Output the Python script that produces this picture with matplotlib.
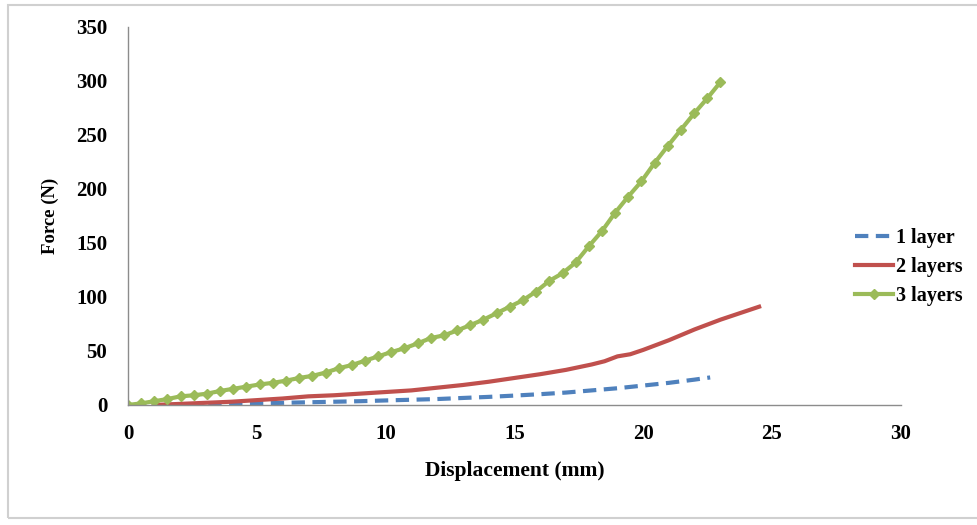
import matplotlib.pyplot as plt
from matplotlib.patches import Rectangle

# 1 layer
x1 = [1.5, 3, 5, 7, 9, 10, 12, 14, 15, 16, 17, 18, 19, 20, 21, 22, 22.6]
y1 = [0, 0.5, 1.5, 2.5, 3.5, 4.2, 5.5, 7.5, 8.7, 10, 11.5, 13.5, 15.5, 18, 20.5, 23.5, 25.5]

# 2 layers
x2 = [1, 2, 3, 4, 5, 6, 7, 8, 9, 10, 11, 12, 13, 14, 15, 16, 17, 18, 18.5, 19,
      19.5, 20, 21, 22, 23, 24, 24.5]
y2 = [0, 1, 2, 3, 4.5, 6, 8, 9, 10.5, 12, 13.5, 16, 18.5, 21.5, 25, 28.5, 32.5,
      37.5, 40.5, 45, 47, 51, 60, 70, 79, 87, 91]

# 3 layers
x3 = [0, 0.51, 1.02, 1.53, 2.04, 2.56, 3.07, 3.58, 4.09, 4.6, 5.11, 5.62, 6.13,
      6.64, 7.16, 7.67, 8.18, 8.69, 9.2, 9.71, 10.22, 10.73, 11.24, 11.76, 12.27,
      12.78, 13.29, 13.8, 14.31, 14.82, 15.33, 15.84, 16.36, 16.87, 17.38, 17.89,
      18.4, 18.91, 19.42, 19.93, 20.44, 20.96, 21.47, 21.98, 22.49, 23.0]
y3 = [0, 1.5, 3.5, 5.5, 8, 9, 10.5, 13, 15, 17, 19, 20.5, 22.5, 25, 27, 30, 34,
      37, 41, 45, 49, 52.5, 57, 62, 64.5, 69, 74, 79, 85, 91, 97, 105, 115, 122,
      132, 147, 161, 178, 193, 207, 224, 240, 255, 270, 284, 299]

xticks = [0, 5, 10, 15, 20, 25, 30]
yticks = [0, 50, 100, 150, 200, 250, 300, 350]

plt.rcParams['font.family'] = ['Liberation Serif', 'DejaVu Serif']
plt.rcParams['font.weight'] = 'bold'

fig = plt.figure(figsize=(9.77, 5.25), dpi=100)
fig.patches.append(Rectangle((8 / 977, 7 / 525), 1.0, 513 / 525, transform=fig.transFigure,
                             fill=False, edgecolor='#d0d0d0', linewidth=1.5))
ax = fig.add_axes([0.131, 0.2286, 0.791, 0.72])

ax.plot(x1, y1, color='#4F81BD', lw=3, ls=(0, (3.2, 1.8)), label='1 layer')
ax.plot(x2, y2, color='#C0504D', lw=3, label='2 layers')
ax.plot(x3, y3, color='#9BBB59', lw=3, marker='D', markersize=5,
        label='3 layers')

ax.set_xlim(0, 30)
ax.set_ylim(0, 350)
ax.set_xticks(xticks)
ax.set_yticks(yticks)
ax.tick_params(length=0, labelsize=15, pad=14)
ax.tick_params(axis='y', pad=15)
for s in ['top', 'right']:
    ax.spines[s].set_visible(False)
for s in ['left', 'bottom']:
    ax.spines[s].set_color('#8c8c8c')
    ax.spines[s].set_linewidth(1)

ax.set_xlabel('Displacement (mm)', fontsize=15.5, fontweight='bold', labelpad=12)
ax.set_ylabel('Force (N)', fontsize=13.5, fontweight='bold', labelpad=12)

ax.legend(loc='center left', bbox_to_anchor=(0.93, 0.365), frameon=False,
          fontsize=14.5, handlelength=1.9, handletextpad=0.15, labelspacing=0.45,
          borderaxespad=0)

fig.savefig('out.png', dpi=100)
